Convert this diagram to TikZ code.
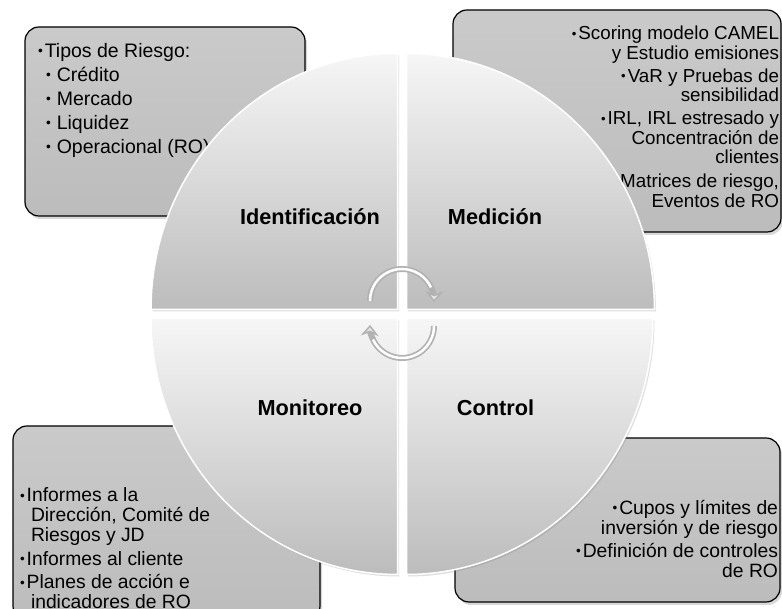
\documentclass[tikz,border=0pt]{standalone}
\usepackage{fontspec}
\setmainfont{Liberation Sans}
\usetikzlibrary{shapes,arrows,arrows.meta,positioning,shadows}
\definecolor{boxtop}{RGB}{202,202,202}
\definecolor{boxbot}{RGB}{188,188,188}
\definecolor{qtop}{RGB}{246,246,246}
\definecolor{qbot}{RGB}{188,188,188}
\def\bul{\raisebox{.15ex}{\scalebox{.7}{\textbullet}}\kern2pt}
\def\sub{\hspace*{8pt}\raisebox{.15ex}{\scalebox{.7}{\textbullet}}\hspace{6pt}}
\def\ind{\hspace*{11pt}}

\begin{document}
\begin{tikzpicture}[x=1pt,y=1pt,% sizes are in pt, 1pt = 1px of the target
				every node/.style={inner sep=0pt, outer sep=0pt},
				box/.style={rectangle, rounded corners=14pt, draw=black, line width=1.2pt,
					top color=boxtop, bottom color=boxbot,
					drop shadow={opacity=.3, shadow xshift=2pt, shadow yshift=-3pt}},
				txt/.style={font=\fontsize{19.3}{20}\selectfont},
				lbl/.style={font=\fontsize{21.7}{24}\selectfont\bfseries},
				quad/.style={draw=white, line width=1.5pt, top color=qtop, bottom color=qbot,
					drop shadow={opacity=.25, shadow xshift=1.5pt, shadow yshift=-2pt}},
				cyc/.style={line width=6pt, draw=gray!60,
					-{Stealth[length=11pt,width=18pt,line width=1.5pt,fill=gray!20]}},
				cycin/.style={line width=2.5pt, draw=white}
			]
			\clip (0,0) rectangle (782,609);
			\fill[white] (0,0) rectangle (782,609);
			% the four boxes
			\node[box, minimum width=280pt, minimum height=189pt](B1) at (165,487.5) {};
			\node[box, minimum width=328pt, minimum height=222pt](B2) at (617,488) {};
			\node[box, minimum width=307pt, minimum height=194pt](B3) at (166.5,86) {};
			\node[box, minimum width=325pt, minimum height=164pt](B4) at (617.5,89) {};
			\node[txt, font=\fontsize{19.5}{24}\selectfont, align=left](T1)[below right=16pt and 13pt of B1.north west]
				{\bul Tipos de Riesgo:\\ \sub Crédito\\ \sub Mercado\\ \sub Liquidez\\ \sub Operacional (RO)};
			\node[txt, font=\fontsize{18.8}{19.5}\selectfont, align=right](T2)[below left=16pt and 2pt of B2.north east]
				{\bul Scoring modelo CAMEL\\ y Estudio emisiones\\[3.5pt] \bul VaR y Pruebas de\\ sensibilidad\\[3.5pt]
				 \bul IRL, IRL estresado y\\ Concentración de\\ clientes\\[4.5pt] \bul Matrices de riesgo,\\ Eventos de RO};
			\node[txt, align=left](T3)[below right=62pt and 7pt of B3.north west]
				{\bul Informes a la\\ \ind Dirección, Comité de\\ \ind Riesgos y JD\\[3.5pt] \bul Informes al cliente\\[3.5pt]
				 \bul Planes de acción e\\ \ind indicadores de RO};
			\node[txt, align=right](T4)[below left=62pt and 2pt of B4.north east]
				{\bul Cupos y límites de\\ inversión y de riesgo\\[3pt] \bul Definición de controles\\ de RO};
			% the circle in four quarters
			\path[quad] (397.5,299.5) -- ++(-246.5,0) arc[start angle=180, end angle=90, x radius=246.5, y radius=256] -- cycle;
			\path[quad] (406.5,299.5) -- ++(0,256) arc[start angle=90, end angle=0, x radius=248, y radius=256] -- cycle;
			\path[quad] (397.5,290.5) -- ++(0,-256) arc[start angle=270, end angle=180, x radius=246.5, y radius=256] -- cycle;
			\path[quad] (406.5,290.5) -- ++(246.5,0) arc[start angle=0, end angle=-90, x radius=246.5, y radius=256] -- cycle;
			\node[lbl](L1) at (310,392) {Identificación};
			\node[lbl](L2) at (495,392) {Medición};
			\node[lbl](L3) at (310,201) {Monitoreo};
			\node[lbl](L4) at (495.5,201) {Control};
			% turning arrows in the middle
			\draw[cyc] (370,308) arc[start angle=180, end angle=-2, radius=32];
			\draw[cycin] (370,308) arc[start angle=180, end angle=25, radius=32];
			\draw[cyc] (434,283) arc[start angle=0, end angle=-182, radius=32];
			\draw[cycin] (434,283) arc[start angle=0, end angle=-155, radius=32];
		\end{tikzpicture}
\end{document}
